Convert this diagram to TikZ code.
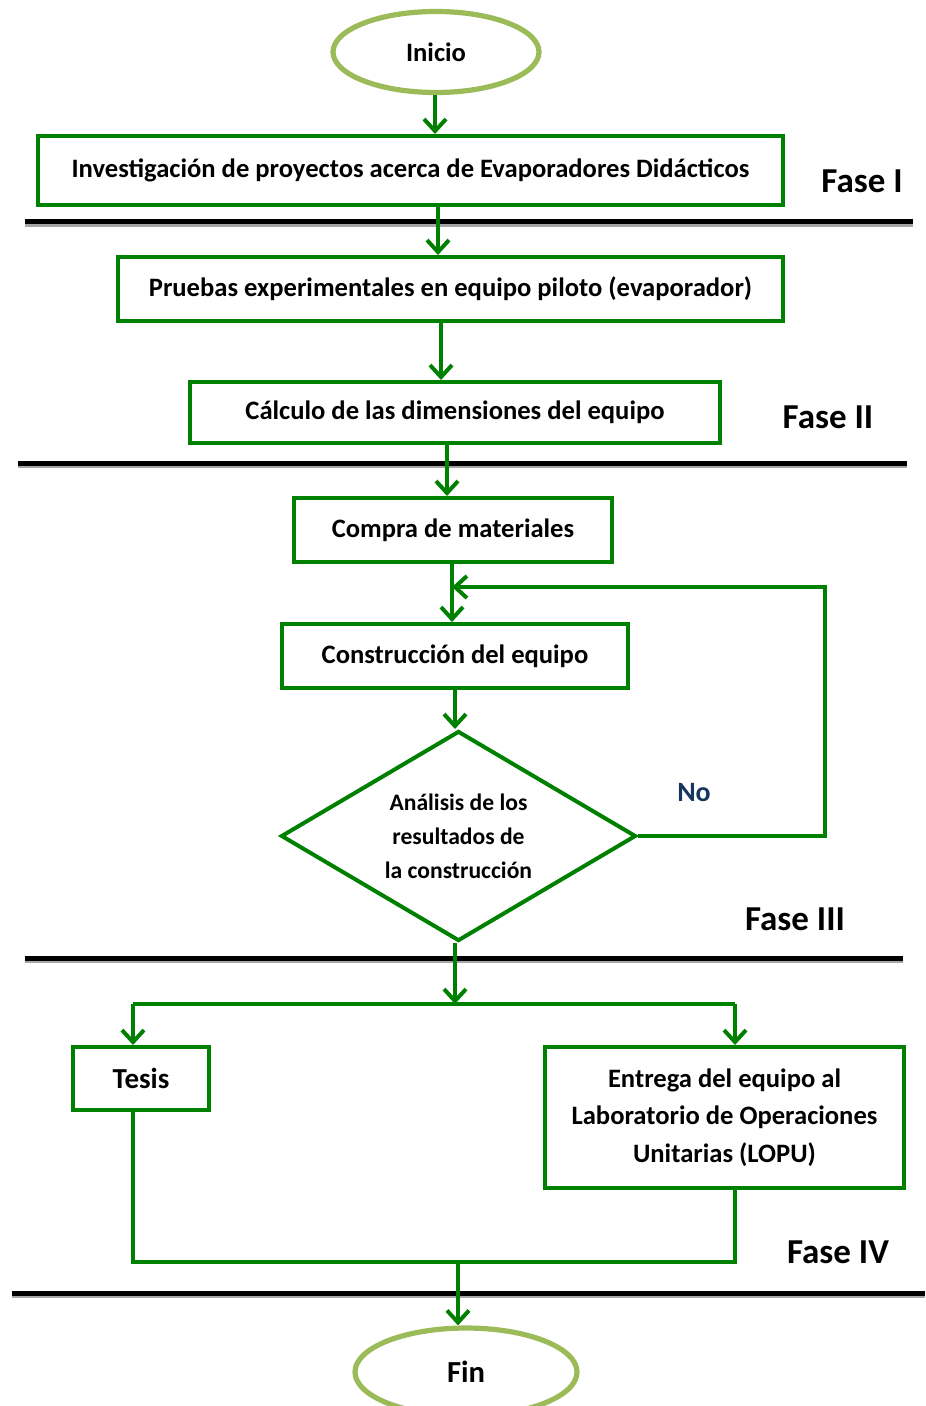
\documentclass[tikz,border=0pt]{standalone}
\usepackage{xcolor}
\usepackage{fontspec}
\setmainfont{Carlito}
\usepackage{tikz}
\usetikzlibrary{shapes.geometric,arrows.meta}

\definecolor{boxgreen}{HTML}{008000}
\definecolor{ovalgreen}{HTML}{9BBB59}
\definecolor{nonavy}{HTML}{17365D}

\begin{document}
\begin{tikzpicture}[x=0.5pt, y=-0.5pt,
        stepbox/.style={draw=boxgreen, line width=2pt, rectangle, inner sep=0pt, align=center,
            font=\fontsize{13.3}{18.75}\selectfont\bfseries},
        oval/.style={draw=ovalgreen, line width=2.6pt, ellipse, inner sep=0pt,
            font=\fontsize{13.3}{16}\selectfont\bfseries},
        decide/.style={draw=boxgreen, line width=2pt, diamond, shape aspect=1.69, inner sep=0pt, align=center,
            font=\fontsize{11.8}{17}\selectfont\bfseries},
        conn/.style={draw=boxgreen, line width=2pt},
        arrowconn/.style={conn, -{Straight Barb[length=6pt, width=11pt, line width=2pt]}},
        sep/.style={line width=2.5pt, black},
        sepshadow/.style={line width=2pt, black!35},
        fase/.style={font=\fontsize{17.5}{20}\selectfont\bfseries}]
        \useasboundingbox (0,0) rectangle (925,1406);

        % nodos
        \node[oval, minimum width=103pt, minimum height=40.5pt] (inicio) at (436,52) {Inicio};
        \node[stepbox, minimum width=372.5pt, minimum height=34.5pt] (b1) at (410.5,170.5)
            {Investigación de proyectos acerca de Evaporadores Didácticos};
        \node[stepbox, minimum width=332.5pt, minimum height=32pt] (b2) at (450.5,289)
            {Pruebas experimentales en equipo piloto (evaporador)};
        \node[stepbox, minimum width=265pt, minimum height=30.5pt] (b3) at (455,412.5)
            {Cálculo de las dimensiones del equipo};
        \node[stepbox, minimum width=159pt, minimum height=32pt] (b4) at (453,530) {Compra de materiales};
        \node[stepbox, minimum width=173pt, minimum height=32pt] (b5) at (455,656) {Construcción del equipo};
        \node[decide, minimum width=177.5pt, minimum height=105pt] (analisis) at (458.5,836)
            {Análisis de los\\resultados de\\la construcción};
        \node[stepbox, minimum width=68pt, minimum height=31.5pt, font=\fontsize{14.5}{16}\selectfont\bfseries]
            (tesis) at (141,1078.5) {Tesis};
        \node[stepbox, minimum width=179.5pt, minimum height=70.5pt] (entrega) at (724.5,1117.5)
            {Entrega del equipo al\\Laboratorio de Operaciones\\Unitarias (LOPU)};
        \node[oval, minimum width=111pt, minimum height=44pt, font=\fontsize{15.3}{18}\selectfont\bfseries]
            (fin) at (466,1372) {Fin};

        % fases
        \node[fase] (f1) at (862,181) {Fase I};
        \node[fase] (f2) at (828,417) {Fase II};
        \node[fase] (f3) at (795,919) {Fase III};
        \node[fase] (f4) at (838,1252) {Fase IV};
        \node[font=\fontsize{14}{16}\selectfont\bfseries, text=nonavy] (no) at (694,793) {No};

        % separadores
        \draw[sepshadow] (25,225) -- (913,225);
        \draw[sep] (25,222) -- (913,222);
        \draw[sepshadow] (18,466) -- (907,466);
        \draw[sep] (18,463) -- (907,463);
        \draw[sepshadow] (25,961) -- (903,961);
        \draw[sep] (25,958) -- (903,958);
        \draw[sepshadow] (12,1296) -- (925,1296);
        \draw[sep] (12,1293) -- (925,1293);

        % puntos de union
        \coordinate (loopin) at (452,587);
        \coordinate (split) at (455,1004);
        \coordinate (join) at (458,1262);

        % conectores
        \draw[arrowconn] (inicio.south -| 435,0) -- (b1.north -| 435,0);
        \draw[arrowconn] (b1.south -| 438,0) -- (b2.north -| 438,0);
        \draw[arrowconn] (b2.south -| 441,0) -- (b3.north -| 441,0);
        \draw[arrowconn] (b3.south -| 447,0) -- (b4.north -| 447,0);
        \draw[arrowconn] (b4.south -| 452,0) -- (b5.north -| 452,0);
        \draw[arrowconn] (b5.south -| 455,0) -- (analisis.north -| 455,0);
        \draw[arrowconn] (analisis.east) -- (825,0 |- analisis.east) -- (825,0 |- loopin) -- (loopin);
        \draw[arrowconn] (analisis.south -| split) -- (split);
        \draw[conn] (133,0 |- split) -- (735,0 |- split);
        \draw[arrowconn] (133,0 |- split) -- (tesis.north -| 133,0);
        \draw[arrowconn] (735,0 |- split) -- (entrega.north -| 735,0);
        \draw[conn] (tesis.south -| 133,0) -- (133,0 |- join) -- (735,0 |- join) -- (entrega.south -| 735,0);
        \draw[arrowconn] (join) -- (fin.north -| join);
    \end{tikzpicture}
\end{document}
